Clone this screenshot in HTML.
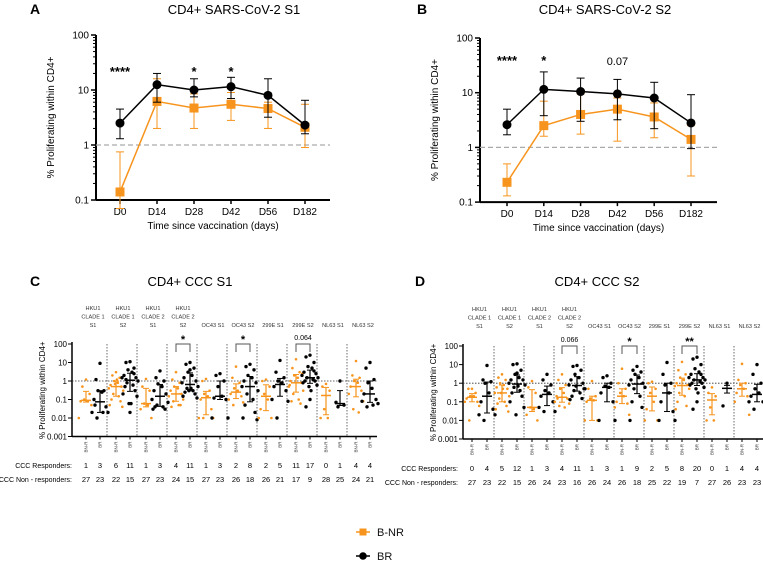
<!DOCTYPE html>
<html><head><meta charset="utf-8"><style>
html,body{margin:0;padding:0;background:#fff;}
svg{display:block;font-family:"Liberation Sans",Arial,sans-serif;}
</style></head><body>
<svg id="fig" width="763" height="561" viewBox="0 0 763 561" xmlns="http://www.w3.org/2000/svg">
<g id="gA"></g>
<g id="gB"></g>
<g id="gC"></g>
<g id="gD"></g>
<g>
  <g>
    <line x1="356" y1="532" x2="370" y2="532" stroke="#F7941D" stroke-width="1.5"/>
    <rect x="359.5" y="528.5" width="7" height="7" fill="#F7941D"/>
    <text x="377" y="536" font-size="11" fill="#111">B-NR</text>
  </g>
  <g>
    <line x1="356" y1="556" x2="370" y2="556" stroke="#000" stroke-width="1.5"/>
    <circle cx="363" cy="556" r="3.8" fill="#000"/>
    <text x="377" y="560" font-size="11" fill="#111">BR</text>
  </g>
</g>
</svg>
<script>
const NS="http://www.w3.org/2000/svg";
const ORANGE="#F7941D";
// ---- Panel A/B data ----
const timepoints=["D0","D14","D28","D42","D56","D182"];
const aBR=[2.5,12.5,10,11.5,8,2.3];
const aBRlo=[1.3,6,7.5,7,3.2,1.6];
const aBRhi=[4.5,20,16,17,16,6.5];
const aBNR=[0.14,6.2,4.7,5.5,4.6,2.1];
const aBNRlo=[0.07,2,2,2.8,2,0.9];
const aBNRhi=[0.75,16,8.5,9,6,5.5];
const aSig=["****","","*","*","",""];
const bBR=[2.6,11.5,10.5,9.5,8,2.8];
const bBRlo=[1.7,3.8,3,3.2,2.2,0.95];
const bBRhi=[5,24,18.5,17.5,15.5,9.2];
const bBNR=[0.23,2.5,4,5,3.6,1.4];
const bBNRlo=[0.13,1.6,1.75,1.3,1.5,0.3];
const bBNRhi=[0.5,7,9.5,8,6.5,2.5];
const bSig=["****","*","","0.07","",""];
// ---- Panel C/D data ----
const groupLabels=[["HKU1","CLADE 1","S1"],["HKU1","CLADE 1","S2"],["HKU1","CLADE 2","S1"],["HKU1","CLADE 2","S2"],["OC43 S1"],["OC43 S2"],["299E S1"],["299E S2"],["NL63 S1"],["NL63 S2"]];
const cBNR=[[1.2,0.5,0.2,0.1,0.08,0.08,0.05,0.01],[3,2,1.5,1,0.8,0.6,0.5,0.4,0.3,0.2,0.15,0.1,0.08,0.05,0.04,0.7,1.2],[1.3,0.5,0.3,0.06,0.05,0.03,0.01],[3,1.2,0.8,0.5,0.4,0.3,0.2,0.15,0.1,0.08,0.05,0.04,0.05],[1.3,1,0.3,0.2,0.15,0.1,0.03,0.01,0.01,0.01],[6,1.5,0.8,0.4,0.3,0.2,0.15,0.1,0.07,0.05],[1.2,1,0.5,0.2,0.1,0.03,0.01,0.01],[15,5,3,2,1.5,1,0.8,0.5,0.3,0.2,0.1,0.08,0.06,0.6,2.5],[0.7,0.5,0.3,0.03,0.01,0.01],[12,2,1.5,1,0.8,0.5,0.3,0.2,0.08,0.03,0.02]];
const cBR=[[9,1.2,0.3,0.3,0.25,0.1,0.04,0.02,0.02,0.01,0.02,0.05],[11,10,5,4,3,2,1.5,1.5,1,0.8,0.6,0.5,0.3,0.2,0.15,0.06,0.06,0.02,1.2,2.5],[3.5,1.5,1,0.7,0.5,0.3,0.2,0.1,0.07,0.05,0.04,0.04,0.03,0.03],[10,8,5,3,2,1.5,1,0.8,0.5,0.4,0.3,0.25,0.2,0.15,0.12,0.3,0.4,4],[2.5,2,1,0.5,0.15,0.12,0.1,0.01,0.01],[8,6,4,2,1.5,1,0.8,0.5,0.3,0.2,0.1,0.05,0.02,0.01,0.008],[13,3,1.5,1,0.8,0.5,0.3,0.1,0.08,0.01],[25,20,10,6,5,3,2.5,2,1.5,1.5,1.2,1,1,0.8,0.6,0.5,0.3,0.1,0.04,3.5],[1,0.07,0.05,0.04],[10,5,1.2,0.8,0.4,0.2,0.1,0.08,0.06,0.04,0.05]];
const cResp=[1,3,6,11,1,3,4,11,1,3,2,8,2,5,11,17,0,1,4,4];
const cNon=[27,23,22,15,27,23,24,15,27,23,26,18,26,21,17,9,28,25,24,21];
const cSig={3:"*",5:"*",7:"0.064"};
const dBNR=[[0.5,0.5,0.3,0.2,0.2,0.15,0.1,0.1,0.06,0.01],[3,2,1.5,1,0.8,0.6,0.5,0.3,0.2,0.15,0.1,0.08,0.06,0.04,0.03,0.3,0.5],[1.3,0.6,0.3,0.05,0.04,0.02,0.01],[3,1.5,0.8,0.5,0.3,0.2,0.15,0.1,0.08,0.06,0.05,0.15],[1.3,0.5,0.2,0.15,0.12,0.1,0.01,0.01,0.01],[6,1,0.5,0.3,0.2,0.1,0.08,0.05,0.02],[1.2,1,0.5,0.3,0.1,0.04,0.01,0.01],[14,5,3,2,1.5,1,0.8,0.7,0.5,0.3,0.2,0.1,0.06,0.04],[0.6,0.3,0.2,0.05,0.01,0.01],[11,1.5,1,0.8,0.5,0.3,0.2,0.1,0.02]];
const dBR=[[9,1.5,1.2,1,0.3,0.1,0.04,0.02,0.02,0.01],[11,10,5,3,2,1.5,1.5,1,0.8,0.6,0.4,0.3,0.2,0.1,0.05,0.02,0.7,3.5],[3,1.5,0.8,0.4,0.3,0.2,0.1,0.05,0.03,0.03],[9,8,5,3,2,1.5,1,0.8,0.5,0.4,0.3,0.2,0.15,0.13,0.5,0.7],[2.5,2,1,0.7,0.6,0.3,0.1,0.01,0.01],[8,5,4,3,2,1.5,1,0.8,0.6,0.5,0.2,0.1,0.05,0.01],[13,3,1,0.8,0.3,0.1,0.03,0.01,0.01],[25,20,10,6,4,3,2,2,1.5,1.5,1.2,1,1,0.8,0.6,0.5,0.3,0.1,0.04,3],[1,0.06],[10,3,1,0.5,0.3,0.2,0.1,0.1,0.06,0.04]];
const dResp=[0,4,5,12,1,3,4,11,1,3,1,9,2,5,8,20,0,1,4,4];
const dNon=[27,23,22,15,26,24,23,16,26,24,26,18,25,22,19,7,27,26,23,23];
const dSig={3:"0.066",5:"*",7:"**"};

function el(p,tag,attrs,txt){const e=document.createElementNS(NS,tag);for(const k in attrs)e.setAttribute(k,attrs[k]);if(txt!==undefined)e.textContent=txt;p.appendChild(e);return e;}

function lineChart(g,o){
  const Y=v=>o.y100+(2-Math.log10(v))*o.dec;
  const X=i=>o.x0+i*o.step;
  const t=el(g,'text',{x:o.titleX,y:14,'font-size':13,'text-anchor':'middle'},o.title);
  
  
  const pl=el(g,'text',{x:o.letterX,y:14,'font-size':14,'font-weight':'bold'},o.letter);
  
  
  const bot=Y(0.1);
  el(g,'line',{x1:o.ax,y1:Y(100),x2:o.ax,y2:bot,stroke:'#000','stroke-width':2});
  el(g,'line',{x1:o.ax,y1:bot,x2:o.xEnd,y2:bot,stroke:'#000','stroke-width':2});
  [100,10,1,0.1].forEach(v=>{
    el(g,'line',{x1:o.ax-5,y1:Y(v),x2:o.ax,y2:Y(v),stroke:'#000','stroke-width':1.5});
    const tl=el(g,'text',{x:o.ax-7,y:Y(v)+3.5,'font-size':10,'text-anchor':'end'},String(v));
    
    
  });
  for(let d=-1;d<2;d++)for(let m=2;m<10;m++){const v=m*Math.pow(10,d);el(g,'line',{x1:o.ax-3,y1:Y(v),x2:o.ax,y2:Y(v),stroke:'#000','stroke-width':1});}
  el(g,'line',{x1:o.ax,y1:Y(1),x2:o.xEnd,y2:Y(1),stroke:'#aaa','stroke-width':1.3,'stroke-dasharray':'5,3'});
  timepoints.forEach((tp,i)=>{
    el(g,'line',{x1:X(i),y1:bot,x2:X(i),y2:bot+4,stroke:'#000','stroke-width':1.5});
    const tl=el(g,'text',{x:X(i),y:bot+15,'font-size':10,'text-anchor':'middle'},tp);
    
    
  });
  const xt=el(g,'text',{x:(o.ax+o.xEnd)/2,y:bot+29,'font-size':10,'text-anchor':'middle'},'Time since vaccination (days)');
  
  
  const yt=el(g,'text',{x:0,y:0,'font-size':10,'text-anchor':'middle',transform:`translate(${o.ax-42},${(Y(100)+bot)/2}) rotate(-90)`},'% Proliferating within CD4+');
  
  
  function series(vals,lo,hi,col,sq,name){
    const sg=el(g,'g',{});
    
    
    vals.forEach((v,i)=>{
      el(sg,'line',{x1:X(i),y1:Y(lo[i]),x2:X(i),y2:Y(hi[i]),stroke:col,'stroke-width':1});
      [lo[i],hi[i]].forEach(w=>el(sg,'line',{x1:X(i)-4,y1:Y(w),x2:X(i)+4,y2:Y(w),stroke:col,'stroke-width':1}));
    });
    el(sg,'polyline',{points:vals.map((v,i)=>X(i)+','+Y(v)).join(' '),fill:'none',stroke:col,'stroke-width':1.5});
    vals.forEach((v,i)=>{
      const m=sq?el(sg,'rect',{x:X(i)-4.5,y:Y(v)-4.5,width:9,height:9,fill:col}):el(sg,'circle',{cx:X(i),cy:Y(v),r:4.5,fill:col});
      
      
    });
  }
  series(o.bnr,o.bnrLo,o.bnrHi,ORANGE,true,'series-bnr');
  series(o.br,o.brLo,o.brHi,'#000',false,'series-br');
  o.sig.forEach((s,i)=>{if(!s)return;const st=el(g,'text',{x:X(i),y:o.sigY,'font-size':s.startsWith('0')?11:13,'text-anchor':'middle','font-weight':s.startsWith('0')?'normal':'bold'},s);
    
    });
}

lineChart(document.getElementById('gA'),{title:'CD4+ SARS-CoV-2 S1',titleX:234,letter:'A',letterX:30,ax:96,y100:35,dec:55,x0:120,step:37,xEnd:330,
  br:aBR,brLo:aBRlo,brHi:aBRhi,bnr:aBNR,bnrLo:aBNRlo,bnrHi:aBNRhi,sig:aSig,sigY:76});
lineChart(document.getElementById('gB'),{title:'CD4+ SARS-CoV-2 S2',titleX:605,letter:'B',letterX:417,ax:480,y100:38,dec:54.7,x0:507,step:36.8,xEnd:717,
  br:bBR,brLo:bBRlo,brHi:bBRhi,bnr:bBNR,bnrLo:bBNRlo,bnrHi:bBNRhi,sig:bSig,sigY:65});

function quant(a,q){const s=[...a].sort((x,y)=>x-y);const p=(s.length-1)*q;const f=Math.floor(p);return s[f]+(s[Math.min(f+1,s.length-1)]-s[f])*(p-f);}

function scatterChart(g,o){
  const Y=v=>o.y100+(2-Math.log10(v))*o.dec;
  const bot=Y(0.001);
  const t=el(g,'text',{x:o.titleX,y:o.titleY,'font-size':13,'text-anchor':'middle'},o.title);
  
  
  const pl=el(g,'text',{x:o.letterX,y:o.titleY,'font-size':14,'font-weight':'bold'},o.letter);
  
  
  el(g,'line',{x1:o.ax,y1:Y(100)-2,x2:o.ax,y2:bot,stroke:'#000','stroke-width':1.5});
  el(g,'line',{x1:o.ax,y1:bot,x2:o.xEnd,y2:bot,stroke:'#000','stroke-width':1.5});
  [100,10,1,0.1,0.01,0.001].forEach(v=>{
    el(g,'line',{x1:o.ax-4,y1:Y(v),x2:o.ax,y2:Y(v),stroke:'#000','stroke-width':1});
    const tl=el(g,'text',{x:o.ax-5,y:Y(v)+3,'font-size':8,'text-anchor':'end'},String(v));
    
    
  });
  el(g,'line',{x1:o.ax,y1:Y(1),x2:o.xEnd,y2:Y(1),stroke:'#333','stroke-width':0.8,'stroke-dasharray':'1.5,1.5'});
  const yt=el(g,'text',{x:0,y:0,'font-size':8,'text-anchor':'middle',transform:`translate(${o.ax-27},${(Y(100)+bot)/2}) rotate(-90)`},'% Proliferating within CD4+');
  
  
  const rl=el(g,'text',{x:o.rowLabelX,y:o.row1Y,'font-size':7,'text-anchor':'end'},'CCC Responders:');
  
  
  const nl=el(g,'text',{x:o.rowLabelX,y:o.row1Y+14,'font-size':7,'text-anchor':'end'},'CCC Non - responders:');
  
  
  const offs=[0,-4,4,-2,2,-6,6,-8,8,-3,3,-5,5,-7,7,-1,1];
  groupLabels.forEach((lab,i)=>{
    const xb=o.x0+i*o.step, xr=xb+o.brOff;
    if(i<groupLabels.length-1) el(g,'line',{x1:xr+7,y1:Y(100),x2:xr+7,y2:bot,stroke:'#444','stroke-width':0.8,'stroke-dasharray':'1.5,1.5'});
    const lg=el(g,'g',{});
    
    
    const ys=lab.length===1?[o.hdrY+17]:[o.hdrY,o.hdrY+8.5,o.hdrY+17];
    lab.forEach((s,k)=>el(lg,'text',{x:xb+o.brOff/2,y:ys[k],'font-size':5.6,'text-anchor':'middle',fill:'#333'},s));
    [[xb,'BN-R',o.bnr[i],ORANGE,o.resp[2*i],o.non[2*i]],[xr,'BR',o.br[i],'#000',o.resp[2*i+1],o.non[2*i+1]]].forEach(([x,nm,vals,col,r,n])=>{
      el(g,'line',{x1:x,y1:bot,x2:x,y2:bot+3,stroke:'#000','stroke-width':1});
      const cl=el(g,'text',{x:0,y:0,'font-size':4.5,'text-anchor':'end',fill:'#333',transform:`translate(${x+1.5},${bot+5}) rotate(-90)`},nm);
      
      
      const rt=el(g,'text',{x:x,y:o.row1Y,'font-size':7.5,'text-anchor':'middle'},String(r));
      
      
      const nt=el(g,'text',{x:x,y:o.row1Y+14,'font-size':7.5,'text-anchor':'middle'},String(n));
      
      
      const med=quant(vals,0.5),q1=quant(vals,0.25),q3=quant(vals,0.75);
      vals.forEach((v,k)=>{
        const p=el(g,'circle',{cx:x+offs[k%offs.length]*(col==='#000'?1:0.9),cy:Y(v),r:col==='#000'?1.7:1.3,fill:col});
        
        
      });
      el(g,'line',{x1:x,y1:Y(q1),x2:x,y2:Y(q3),stroke:col,'stroke-width':1.2});
      el(g,'line',{x1:x-5,y1:Y(med),x2:x+5,y2:Y(med),stroke:col,'stroke-width':1.5});
      [q1,q3].forEach(q=>el(g,'line',{x1:x-3,y1:Y(q),x2:x+3,y2:Y(q),stroke:col,'stroke-width':1}));
    });
    if(o.sig[i]){
      const s=o.sig[i];const bt=Y(100);
      el(g,'polyline',{points:`${xb},${bt+8} ${xb},${bt} ${xr},${bt} ${xr},${bt+8}`,fill:'none',stroke:'#555','stroke-width':1});
      const st=el(g,'text',{x:xb+o.brOff/2,y:s.startsWith('0')?bt-4:bt-1,'font-size':s.startsWith('0')?7:11,'text-anchor':'middle','font-weight':'bold'},s);
      if(s.startsWith('0'))st.setAttribute('font-weight','normal');
      
      
    }
  });
}
scatterChart(document.getElementById('gC'),{title:'CD4+ CCC S1',titleX:190,titleY:286,letter:'C',letterX:30,ax:72,y100:344,dec:18.5,x0:86,step:30,brOff:14,xEnd:377,hdrY:310,
  bnr:cBNR,br:cBR,resp:cResp,non:cNon,sig:cSig,rowLabelX:72,row1Y:468});
scatterChart(document.getElementById('gD'),{title:'CD4+ CCC S2',titleX:597,titleY:286,letter:'D',letterX:415,ax:463,y100:346,dec:18.6,x0:472,step:30,brOff:15,xEnd:763,hdrY:311,
  bnr:dBNR,br:dBR,resp:dResp,non:dNon,sig:dSig,rowLabelX:458,row1Y:471});
</script>
</body></html>
